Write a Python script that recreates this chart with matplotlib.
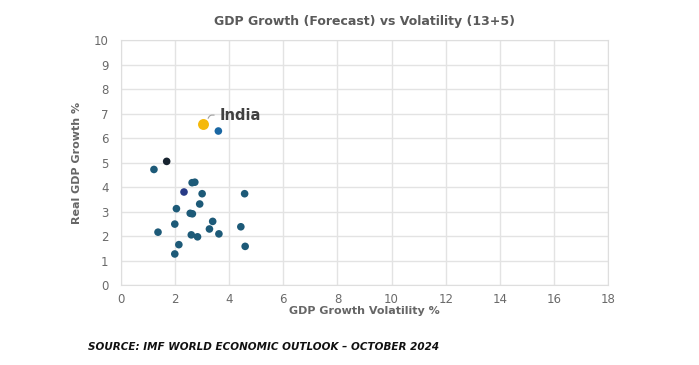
import matplotlib.pyplot as plt

# volatility (x) and real GDP growth (y)
volatility = [3.60, 1.22, 2.63, 2.73, 3.00, 4.57, 2.91, 2.05, 2.56, 2.64,
              3.39, 1.99, 4.43, 3.27, 1.37, 3.62, 2.60, 2.83, 2.14, 4.59, 1.99]
growth = [6.29, 4.72, 4.18, 4.20, 3.73, 3.73, 3.31, 3.12, 2.93, 2.91,
          2.60, 2.49, 2.38, 2.29, 2.16, 2.09, 2.05, 1.97, 1.65, 1.58, 1.27]
colors = ['#1a67a3'] + ['#1d5a78'] * 20

# a couple of points drawn in other shades
other_x = [1.69, 2.33]
other_y = [5.05, 3.80]
other_colors = ['#17232f', '#283a86']

india_x, india_y = 3.05, 6.56

fig = plt.figure(figsize=(6.99, 3.65), dpi=100)
ax = fig.add_axes([0.173, 0.219, 0.697, 0.671])

ax.scatter(volatility, growth, s=30, c=colors, zorder=3, linewidths=0)
ax.scatter(other_x, other_y, s=30, c=other_colors, zorder=3, linewidths=0)
ax.scatter([india_x], [india_y], s=62, c='#f5b90a', zorder=4, linewidths=0)

ax.annotate('India', xy=(india_x + 0.12, india_y + 0.15), xytext=(india_x + 0.6, india_y + 0.38),
            fontsize=10.5, fontweight='bold', color='#404040', va='center',
            arrowprops=dict(arrowstyle='-', color='#a0a0a0', lw=0.8,
                            connectionstyle='angle,angleA=0,angleB=60,rad=2'))

ax.set_xlim(0, 18)
ax.set_ylim(0, 10)
ax.set_xticks(range(0, 19, 2))
ax.set_yticks(range(0, 11))
ax.grid(True, color='#e3e3e3', lw=1)
ax.set_axisbelow(True)
for s in ax.spines.values():
    s.set_color('#dedede')
ax.tick_params(length=0, labelsize=8.5, labelcolor='#6a6a6a')
ax.tick_params(axis='x', pad=6)
ax.tick_params(axis='y', pad=9)

ax.set_xlabel('GDP Growth Volatility %', fontsize=8, fontweight='bold', color='#666666', labelpad=0)
ax.set_ylabel('Real GDP Growth %', fontsize=8, fontweight='bold', color='#666666', labelpad=8)
ax.set_title('GDP Growth (Forecast) vs Volatility (13+5)', fontsize=9, fontweight='bold',
             color='#5a5a5a', pad=11)

fig.text(0.126, 0.042, 'SOURCE: IMF WORLD ECONOMIC OUTLOOK \u2013 OCTOBER 2024', fontsize=7.5,
         fontweight='bold', style='italic', color='#111111')

fig.savefig('out.png', dpi=100)
